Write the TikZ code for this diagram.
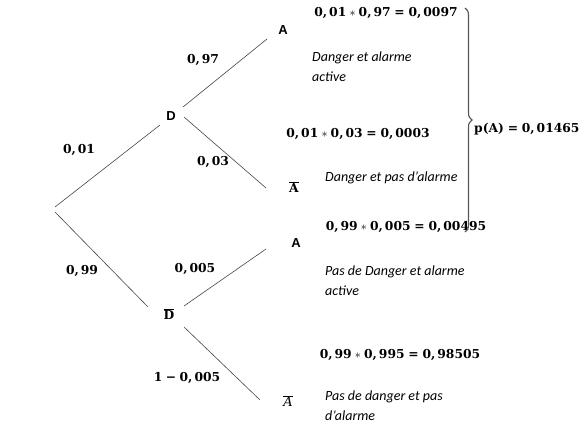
\documentclass[tikz,border=0pt]{standalone}
\usepackage{fontspec}
\usetikzlibrary{decorations.pathreplacing}
\newfontfamily\calib{Carlito}
\newfontfamily\arialf{Liberation Sans}
\newfontfamily\numf{DejaVu Serif}
\newcommand\mlt{\hspace{3.2pt}\raisebox{0.3pt}{$\ast$}\hspace{3.2pt}}
\newcommand\eqs{\hspace{3.8pt}=\hspace{3.8pt}}
\newcommand\cm{,\hspace{2pt}}
\definecolor{linecol}{RGB}{70,70,70}
\definecolor{bracecol}{RGB}{85,85,85}
\begin{document}
\begin{tikzpicture}[x=1pt,y=-1pt,
  branch/.style={draw=linecol,line width=0.6pt},
  sanslbl/.style={inner sep=0pt,font=\arialf\bfseries\fontsize{13}{15}\selectfont},
  mathlbl/.style={inner sep=0pt,font=\numf\bfseries\fontsize{12.3}{15}\selectfont},
  note/.style={inner sep=0pt,align=left,font=\calib\itshape\fontsize{14}{19.5}\selectfont}]
\useasboundingbox (0,0) rectangle (588,428);
% tree points
\coordinate (root) at (55,209);
\node[sanslbl] (D) at (171,116) {D};
\node[mathlbl] (Db) at (169,314) {$\overline{\hbox{\numf\bfseries\fontsize{12.3}{15}\selectfont D}}$};
\node[sanslbl] (A1) at (283,30) {A};
\node[mathlbl] (Ab1) at (294,187) {$\overline{\hbox{\numf\bfseries\fontsize{12.3}{15}\selectfont A}}$};
\node[sanslbl] (A2) at (296,243) {A};
\node[mathlbl] (Ab2) at (288,401) {$\overline{\hbox{\numf\mdseries\itshape\fontsize{13}{15}\selectfont A}}$};
% branches
\draw[branch] ([shift={(0,-2)}]root) -- ([shift={(-11,9)}]D.center);
\draw[branch] ([shift={(0,3)}]root) -- ([shift={(-21,-7)}]Db.center);
\draw[branch] ([shift={(12,-9)}]D.center) -- ([shift={(-16,9)}]A1.center);
\draw[branch] ([shift={(13,1)}]D.center) -- ([shift={(-28,1)}]Ab1.center);
\draw[branch] ([shift={(15,-8)}]Db.center) -- ([shift={(-30,6)}]A2.center);
\draw[branch] ([shift={(15,13)}]Db.center) -- ([shift={(-28,-1)}]Ab2.center);
% branch probabilities
\node[mathlbl] (p1) at (79,150) {0\cm01};
\node[mathlbl] (p2) at (82,271) {0\cm99};
\node[mathlbl] (p3) at (203,60) {0\cm97};
\node[mathlbl] (p4) at (213,162) {0\cm03};
\node[mathlbl] (p5) at (195,269) {0\cm005};
\node[mathlbl] (p6) at (187,378) {1\hspace{3.5pt}−\hspace{3.5pt}0\cm005};
% results
\node[mathlbl] (f1) at (386,13) {0\cm01\mlt0\cm97\eqs0\cm0097};
\node[mathlbl] (f2) at (358,134) {0\cm01\mlt0\cm03\eqs0\cm0003};
\node[mathlbl] (f3) at (406,227) {0\cm99\mlt0\cm005\eqs0\cm00495};
\node[mathlbl] (f4) at (400,355) {0\cm99\mlt0\cm995\eqs0\cm98505};
\node[note,anchor=north west] (t1) at (312,52) {Danger et alarme\\active};
\node[note,anchor=west] (t2) at (325,178) {Danger et pas d’alarme};
\node[note,anchor=north west] (t3) at (325,266) {Pas de Danger et alarme\\active};
\node[note,anchor=north west] (t4) at (325,391) {Pas de danger et pas\\d’alarme};
% brace and total
\coordinate (btop) at (465,8);
\coordinate (bbot) at (465,232);
\draw[draw=bracecol,line width=1.1pt,decorate,decoration={brace,amplitude=7pt}] (btop) -- (bbot);
\node[mathlbl,anchor=west] (pA) at (474,129) {p(A)\eqs0\cm01465};
\end{tikzpicture}
\end{document}
